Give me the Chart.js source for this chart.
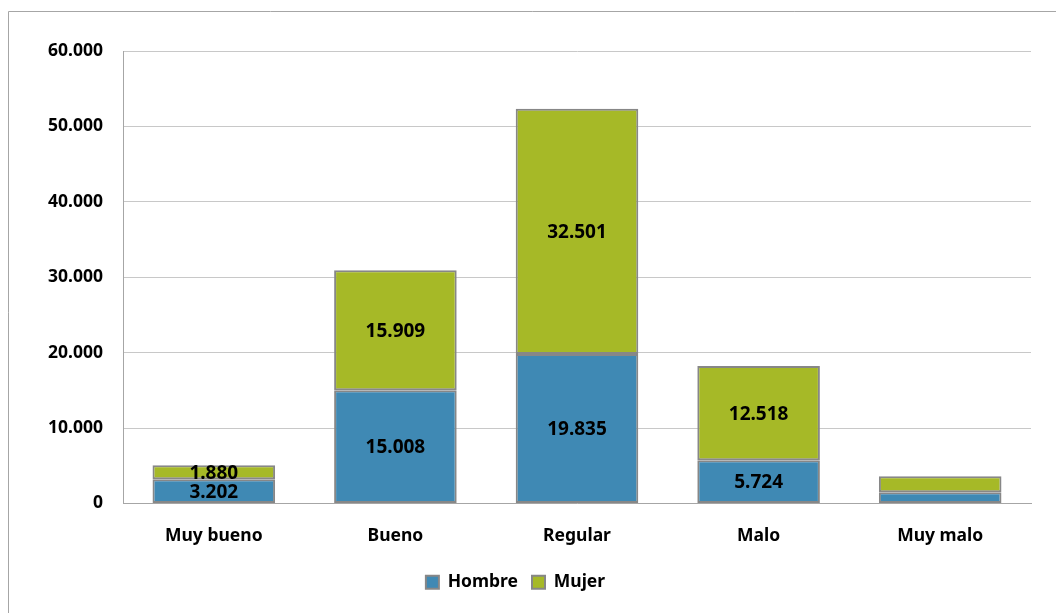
<!DOCTYPE html>
<html>
<head>
<meta charset="utf-8">
<script src="https://cdn.jsdelivr.net/npm/chart.js@4.4.1/dist/chart.umd.min.js"></script>
<style>
  html, body { margin: 0; padding: 0; background: #fff; }
  #wrap { width: 1056px; height: 613px; position: relative; }
</style>
</head>
<body>
<div id="wrap"><canvas id="myChart" width="1056" height="613"></canvas></div>
<script>
// datos
const categories = ['Muy bueno', 'Bueno', 'Regular', 'Malo', 'Muy malo'];
const hombre = [3202, 15008, 19835, 5724, 1500];
const mujer = [1880, 15909, 32501, 12518, 2100];
const showValue = [true, true, true, true, false];
const yTicks = [0, 10000, 20000, 30000, 40000, 50000, 60000];

const FONT = '"Noto Sans", "Open Sans", sans-serif';

function fmt(v) {
  return v.toString().replace(/\B(?=(\d{3})+(?!\d))/g, '.');
}

// marco exterior del gráfico
const framePlugin = {
  id: 'framePlugin',
  beforeDraw(chart) {
    const c = chart.ctx;
    c.save();
    c.strokeStyle = '#a6a6a6';
    c.lineWidth = 1;
    c.beginPath();
    c.moveTo(8.5, 613);
    c.lineTo(8.5, 11.5);
    c.lineTo(1056, 11.5);
    c.stroke();
    c.restore();
  }
};

// etiquetas de valores dentro de las barras
const valueLabels = {
  id: 'valueLabels',
  afterDatasetsDraw(chart) {
    const c = chart.ctx;
    c.save();
    c.font = 'bold 19px ' + FONT;
    c.fillStyle = '#000';
    c.textAlign = 'center';
    c.textBaseline = 'middle';
    chart.data.datasets.forEach((ds, i) => {
      const meta = chart.getDatasetMeta(i);
      meta.data.forEach((bar, j) => {
        if (!showValue[j]) return;
        const y = (bar.y + bar.base) / 2;
        c.fillText(fmt(ds.data[j]), bar.x, y + 1);
      });
    });
    c.restore();
  }
};

const ctx = document.getElementById('myChart');
new Chart(ctx, {
  type: 'bar',
  data: {
    labels: categories,
    datasets: [
      {
        label: 'Hombre',
        data: hombre,
        backgroundColor: '#3f89b4',
        borderColor: '#878787',
        borderWidth: 2,
        borderSkipped: false,
        categoryPercentage: 0.675,
        barPercentage: 1
      },
      {
        label: 'Mujer',
        data: mujer,
        backgroundColor: '#a6b927',
        borderColor: '#878787',
        borderWidth: 2,
        borderSkipped: false,
        categoryPercentage: 0.675,
        barPercentage: 1
      }
    ]
  },
  options: {
    responsive: false,
    animation: false,
    layout: { padding: { top: 51, right: 25, left: 0, bottom: 12 } },
    plugins: {
      legend: {
        position: 'bottom',
        labels: {
          font: { family: FONT, size: 17.5, weight: 'bold' },
          color: '#000',
          boxWidth: 13,
          boxHeight: 13,
          padding: 14,
          generateLabels(chart) {
            return chart.data.datasets.map((ds, i) => ({
              text: ds.label,
              fillStyle: ds.backgroundColor,
              strokeStyle: '#878787',
              lineWidth: 2,
              datasetIndex: i,
              hidden: false
            }));
          }
        }
      },
      tooltip: { enabled: false }
    },
    scales: {
      x: {
        stacked: true,
        grid: { display: false },
        border: { color: '#a6a6a6', width: 1 },
        ticks: {
          font: { family: FONT, size: 17.5, weight: 'bold' },
          color: '#000',
          padding: 14
        },
        afterFit(scale) { scale.height = 56; }
      },
      y: {
        stacked: true,
        min: 0,
        max: 60000,
        afterBuildTicks(scale) {
          scale.ticks = yTicks.map(v => ({ value: v }));
        },
        grid: { color: '#c8c8c8', drawTicks: false },
        border: { color: '#a6a6a6', width: 1 },
        ticks: {
          font: { family: FONT, size: 17.5, weight: 'bold' },
          color: '#000',
          padding: 20,
          callback: v => fmt(v)
        },
        afterFit(scale) { scale.width = 123; }
      }
    }
  },
  plugins: [framePlugin, valueLabels]
});
</script>
</body>
</html>
